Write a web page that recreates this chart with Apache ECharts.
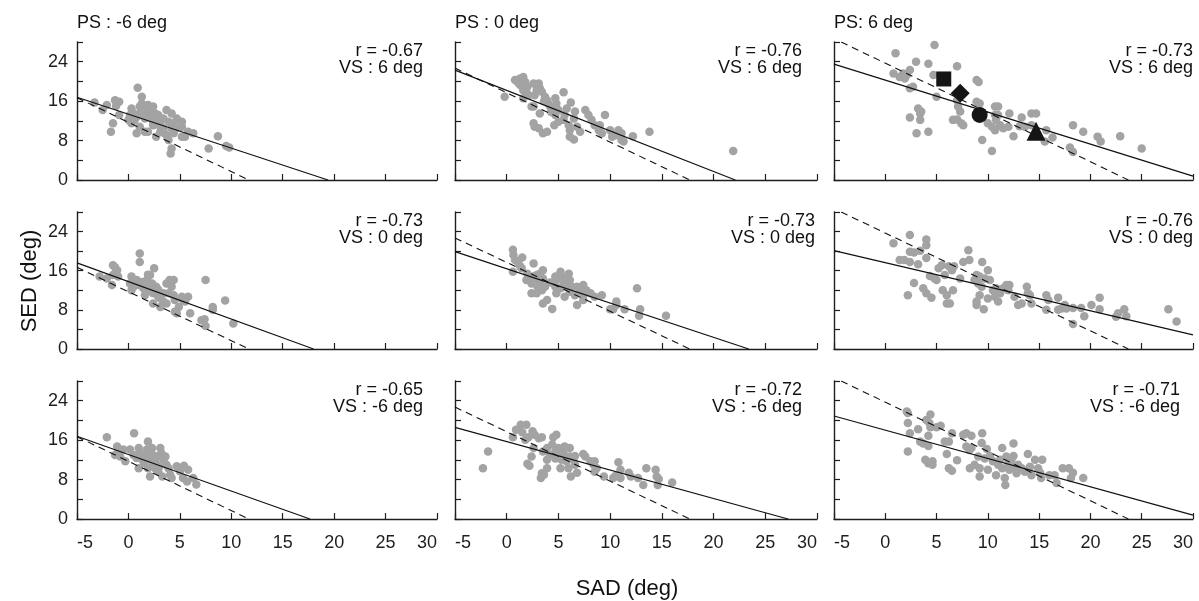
<!DOCTYPE html>
<html><head><meta charset="utf-8">
<script src="https://cdn.jsdelivr.net/npm/echarts@6/dist/echarts.min.js"></script>
<style>html,body{margin:0;padding:0;background:#fff}#c{width:1199px;height:601px}</style>
</head><body><div id="c"></div>
<script>
// ---------- DATA ----------
const PS_LABELS = ['PS : -6 deg', 'PS : 0 deg', 'PS: 6 deg'];
const VS_LABELS = ['VS : 6 deg', 'VS : 0 deg', 'VS : -6 deg'];
const R_VALUES = [['-0.67', '-0.76', '-0.73'], ['-0.73', '-0.73', '-0.76'], ['-0.65', '-0.72', '-0.71']];
const X_NAME = 'SAD (deg)';
const Y_NAME = 'SED (deg)';
// dashed reference line y = c - x, one intercept per PS column
const DASH_INTERCEPT = [11.7, 17.7, 23.7];
// solid regression line endpoints per panel [x0, y0, x1, y1]
const FIT_LINES = [
  [-5, 16.8, 19.4, 0], [-5, 22.3, 22.1, 0], [-5, 23.5, 30, 0.8],
  [-5, 17.6, 18.0, 0], [-5, 19.9, 23.4, 0], [-5, 20.1, 30, 2.9],
  [-5, 16.8, 17.65, 0], [-5, 18.6, 27.2, 0], [-5, 20.9, 30, 0.8]
];
// highlighted markers in panel PS 6 / VS 6
const MARK_SYMBOLS = ['rect', 'diamond', 'circle', 'triangle'];
const MARK_POINTS = [[5.7, 20.5], [7.3, 17.6], [9.2, 13.2], [14.7, 9.9]];

const P11 = [[-3.3,15.7],[-2.5,14.2],[-2.1,15.2],[-1.3,16.2],[-0.9,15.9],[-1.2,15.0],[-0.9,13.2],[-1.5,11.5],[-1.7,9.8],[0.9,18.7],[1.3,16.9],[0.3,14.5],[0.15,13.2],[0.3,11.5],[0.6,12.2],[0.5,13.5],[0.8,12.8],[1.1,14.9],[1.1,13.5],[1.45,14.2],[1.6,12.5],[1.8,14.5],[1.9,13.2],[2.1,13.9],[2.3,12.2],[2.6,13.5],[2.7,12.5],[3.1,11.8],[0.8,9.5],[1.6,9.8],[1.9,9.8],[1.1,10.8],[2.7,8.8],[3.1,10.8],[3.4,10.5],[3.7,14.2],[4.2,13.5],[3.7,9.1],[3.5,9.5],[3.9,8.1],[4.2,6.4],[4.1,5.4],[4.4,11.5],[4.2,10.5],[3.9,11.8],[4.4,9.5],[4.7,10.5],[5.2,11.8],[5.2,10.8],[5.2,8.8],[5.5,8.8],[5.8,9.8],[6.3,9.5],[7.8,6.4],[8.7,8.9],[9.5,6.9],[9.8,6.6],[1.3,15.5],[1.9,15.2],[2.4,14.9],[2.9,13.2],[3.4,12.5],[2.4,11.1],[3.1,9.8],[4.7,12.5],[0.0,12.2],[0.4,12.8]];
const P12 = [[-0.2,16.9],[0.8,20.3],[1.3,20.6],[1.6,20.9],[1.8,19.9],[1.3,19.3],[1.6,18.2],[1.9,17.9],[1.6,16.6],[2.1,17.2],[2.6,19.6],[3.1,19.6],[2.9,18.2],[3.2,18.6],[3.4,17.9],[2.7,17.2],[2.4,14.9],[2.6,14.9],[3.2,13.5],[3.7,16.9],[3.9,16.2],[4.0,15.5],[4.2,14.9],[4.5,14.2],[4.7,16.6],[4.8,15.5],[4.7,13.2],[5.0,14.2],[5.5,17.8],[5.8,14.5],[6.2,15.7],[2.7,10.8],[2.6,11.5],[3.1,10.5],[3.5,9.5],[3.9,9.8],[4.6,11.1],[5.0,11.8],[5.5,12.2],[5.6,13.2],[6.0,11.1],[6.1,10.1],[6.1,8.8],[6.5,8.2],[6.6,13.9],[6.5,12.5],[6.8,10.8],[7.1,9.8],[7.6,14.2],[7.9,13.2],[8.2,12.2],[8.5,11.1],[9.0,11.1],[8.9,10.1],[9.2,9.5],[9.5,13.2],[10.0,10.1],[10.2,8.8],[10.5,9.1],[10.8,10.1],[11.1,9.5],[11.1,8.1],[11.3,7.8],[12.2,8.9],[13.8,9.8],[21.9,5.9],[1.1,19.8],[2.0,18.9],[3.6,16.0],[4.3,13.8]];
const P13 = [[1.0,25.7],[4.8,27.4],[0.8,21.6],[1.4,20.9],[1.75,21.6],[1.9,20.6],[2.1,21.3],[2.4,22.3],[3.0,24.0],[4.2,23.6],[2.4,18.6],[2.7,18.9],[5.0,16.9],[4.7,21.3],[7.0,23.1],[8.9,20.3],[9.1,19.9],[7.0,16.2],[7.1,14.9],[7.3,13.9],[8.9,15.9],[9.2,15.5],[3.2,14.5],[3.4,13.5],[3.5,13.9],[2.4,12.7],[3.4,12.2],[3.05,9.5],[4.2,9.8],[6.6,12.2],[7.0,12.3],[7.4,11.5],[7.6,11.1],[9.45,8.1],[10.4,5.9],[10.0,11.5],[10.4,10.8],[10.7,14.9],[11.0,14.9],[10.7,13.2],[11.0,13.2],[10.8,12.2],[11.2,11.1],[10.7,10.1],[11.5,10.5],[12.1,13.5],[12.0,10.8],[12.5,8.9],[13.1,10.9],[13.3,12.7],[13.6,10.8],[14.25,13.5],[14.7,13.5],[14.25,11.1],[15.55,7.8],[15.7,10.1],[16.3,8.6],[18.0,6.6],[18.3,5.7],[18.3,11.1],[19.3,9.8],[20.7,8.8],[21.0,7.8],[22.9,8.9],[25.0,6.4]];
const P21 = [[-2.8,14.8],[-2.1,14.4],[-1.6,13.1],[-1.5,17.1],[-1.3,16.7],[-1.1,16.1],[-1.5,15.1],[-1.0,14.8],[0.3,14.8],[1.1,19.5],[1.1,17.8],[0.15,13.4],[0.5,12.7],[0.3,12.0],[0.8,14.1],[1.0,13.1],[1.3,13.7],[1.45,12.4],[1.8,14.1],[1.9,13.1],[2.1,12.0],[2.3,13.4],[2.4,11.4],[1.6,11.0],[2.7,12.7],[2.9,10.7],[2.1,15.1],[2.5,16.5],[1.9,15.2],[3.1,10.3],[2.4,9.3],[3.1,8.6],[3.4,9.7],[3.7,9.3],[3.4,11.4],[3.7,13.4],[4.0,14.1],[4.4,14.1],[4.2,12.7],[3.9,11.4],[4.4,11.0],[4.5,10.0],[4.5,7.6],[4.7,7.3],[4.9,8.6],[5.3,10.0],[5.2,10.7],[5.5,9.7],[5.8,10.7],[6.0,7.3],[7.1,5.9],[7.5,4.7],[7.4,6.1],[7.5,14.1],[8.2,8.6],[8.2,8.0],[9.4,9.9],[10.2,5.2],[0.8,13.6],[1.6,12.9],[2.9,12.1]];
const P22 = [[0.6,20.3],[0.65,19.2],[0.8,18.2],[1.1,17.8],[1.5,18.7],[1.3,16.9],[0.6,15.8],[1.45,16.5],[2.6,17.5],[1.9,14.1],[2.1,14.8],[2.4,13.4],[2.4,11.4],[2.6,14.8],[2.9,15.1],[3.1,14.1],[3.2,13.4],[3.5,16.1],[3.5,14.4],[3.7,12.7],[3.4,12.0],[2.9,11.4],[3.9,10.0],[3.5,9.3],[4.4,8.2],[4.7,14.8],[4.8,14.1],[4.7,12.7],[4.8,11.4],[5.2,15.8],[5.3,14.8],[5.5,13.4],[5.2,12.4],[5.6,10.7],[6.0,15.4],[6.1,14.1],[5.8,12.7],[6.1,11.7],[6.3,12.7],[6.6,11.0],[6.8,12.7],[6.8,9.0],[7.1,12.0],[7.4,13.1],[7.4,11.0],[7.4,10.0],[7.7,12.0],[8.1,11.4],[8.5,10.7],[9.2,11.0],[10.0,8.1],[10.3,8.1],[10.6,9.7],[10.6,9.0],[11.4,8.1],[12.6,12.4],[12.9,8.1],[12.8,6.8],[15.4,6.8],[3.2,15.4],[4.2,13.6],[2.0,15.4],[5.8,14.6],[3.0,12.6]];
const P23 = [[0.8,21.6],[1.4,18.2],[1.85,18.2],[2.4,23.3],[2.4,19.9],[2.4,17.8],[2.8,19.7],[3.2,17.3],[3.4,20.1],[4.0,22.4],[4.0,21.2],[4.0,18.6],[2.8,13.5],[2.2,11.0],[3.7,12.4],[4.0,11.4],[4.5,10.5],[4.35,14.9],[4.8,14.4],[5.0,14.1],[5.2,16.5],[5.5,17.1],[5.8,15.1],[5.6,12.0],[6.0,11.0],[6.0,9.3],[6.3,9.3],[6.2,16.9],[6.5,16.1],[6.7,16.9],[6.6,12.0],[7.3,14.4],[7.6,17.8],[8.1,20.2],[8.2,18.2],[8.7,14.1],[8.9,15.1],[9.05,13.4],[9.2,14.8],[9.45,17.8],[9.4,12.7],[9.7,14.4],[10.0,16.1],[10.2,14.1],[9.2,11.0],[8.9,9.7],[8.9,9.0],[9.6,8.1],[10.0,10.3],[10.5,12.0],[10.7,10.7],[10.8,12.4],[11.0,9.7],[11.2,11.4],[11.5,12.4],[11.8,13.1],[12.0,12.0],[12.1,13.1],[12.6,10.7],[12.95,9.0],[13.3,9.3],[13.8,12.7],[13.9,11.4],[14.1,11.0],[14.25,9.3],[15.7,11.0],[15.9,10.0],[15.7,8.0],[16.85,10.5],[16.85,8.0],[17.2,8.3],[17.5,9.0],[17.66,8.3],[18.3,5.1],[18.3,8.4],[19.1,8.4],[19.4,6.7],[20.1,9.0],[20.9,10.5],[20.9,8.1],[22.5,6.6],[22.7,7.3],[23.3,8.1],[23.5,6.7],[27.6,8.1],[28.4,5.6]];
const P31 = [[-2.1,16.6],[0.55,17.4],[-1.1,14.7],[-1.0,14.1],[-1.3,13.0],[-0.8,12.7],[-0.5,14.1],[-0.3,11.7],[0.16,14.1],[0.5,13.0],[0.8,12.4],[1.0,14.4],[1.0,10.3],[1.5,11.4],[1.6,13.0],[1.9,15.7],[1.8,14.1],[2.1,12.0],[1.9,10.3],[2.3,14.4],[2.4,13.0],[2.4,11.4],[2.6,10.3],[2.1,8.6],[2.8,12.7],[2.9,9.7],[3.1,14.4],[3.2,13.4],[3.4,12.0],[3.3,8.6],[3.6,12.7],[3.7,11.0],[3.9,10.3],[4.06,9.0],[4.2,8.3],[4.7,10.7],[5.0,9.7],[5.3,8.3],[5.4,10.8],[5.7,7.6],[5.8,10.0],[6.3,8.3],[6.6,7.0],[1.1,13.3],[1.8,12.7],[1.4,11.9],[2.7,11.2],[3.0,10.6]];
const P32 = [[-2.3,10.3],[-1.8,13.7],[0.6,16.6],[0.9,18.1],[1.35,19.1],[1.9,19.1],[1.5,17.6],[1.8,16.1],[2.1,16.6],[2.5,17.8],[2.7,17.1],[3.1,16.4],[3.4,16.6],[2.6,14.4],[2.4,12.7],[2.0,11.2],[2.2,10.8],[3.4,9.3],[3.3,8.3],[3.6,9.0],[3.9,10.3],[3.9,12.0],[3.5,13.7],[3.9,14.4],[4.2,13.0],[4.4,15.1],[4.5,16.6],[4.8,17.1],[4.7,13.7],[4.7,12.3],[5.0,13.0],[5.0,14.4],[5.2,10.3],[5.3,12.0],[5.5,13.4],[5.6,14.7],[5.8,11.7],[5.97,10.3],[6.1,14.4],[6.1,12.7],[6.2,8.6],[6.45,12.0],[6.6,11.0],[6.8,9.4],[6.6,12.8],[7.4,13.2],[7.6,12.7],[8.1,11.7],[8.4,11.0],[8.5,11.7],[8.5,9.6],[8.7,10.3],[9.4,8.6],[10.3,8.3],[10.5,8.7],[10.8,11.5],[11.0,10.0],[11.0,8.3],[11.8,9.4],[12.0,8.6],[12.7,8.3],[13.2,6.9],[13.5,10.3],[14.4,10.0],[14.5,8.6],[14.6,6.9],[14.7,8.1],[16.0,7.4]];
const P33 = [[2.1,21.8],[2.2,21.5],[2.2,19.5],[2.4,17.4],[2.2,13.7],[3.2,18.2],[3.4,15.7],[3.7,15.3],[4.0,20.1],[4.4,21.2],[4.3,19.5],[4.4,18.6],[4.2,16.9],[4.2,14.8],[3.9,12.0],[4.2,11.3],[4.6,11.0],[4.6,11.7],[5.0,18.6],[5.4,18.9],[5.8,15.7],[6.2,15.7],[6.0,13.2],[6.2,10.3],[6.5,9.8],[6.5,17.4],[7.0,11.9],[7.6,17.1],[7.9,17.4],[7.9,14.7],[8.2,14.0],[8.4,16.9],[8.4,14.4],[8.25,10.3],[8.7,11.0],[9.06,12.7],[9.2,10.3],[9.2,8.6],[9.45,17.4],[9.4,15.4],[9.7,12.3],[9.9,14.2],[10.0,10.0],[10.2,12.8],[10.5,11.7],[10.8,8.9],[11.0,11.0],[11.2,12.0],[11.4,14.4],[11.4,10.3],[11.7,6.9],[11.65,8.3],[11.8,12.7],[12.0,11.3],[12.1,10.0],[12.3,12.0],[12.5,15.3],[12.5,12.8],[12.6,10.6],[12.8,9.3],[12.95,11.0],[13.3,10.3],[13.6,9.6],[13.9,13.2],[14.1,10.6],[14.25,8.9],[14.6,12.0],[14.9,10.3],[15.1,9.4],[15.3,12.0],[15.2,8.3],[16.0,8.9],[16.5,8.9],[16.7,7.3],[17.3,10.3],[17.9,10.3],[18.3,9.4],[18.1,8.3],[19.3,8.3]];
const PANEL_POINTS = [P11, P12, P13, P21, P22, P23, P31, P32, P33];

// ---------- LAYOUT ----------
const FONT = '"Liberation Sans", Arial, Helvetica, sans-serif';
const GRID_LEFT = [77, 455, 834], GRID_W = [360, 362, 359];
const GRID_TOP = [42, 212, 381], GRID_H = [138, 137, 138];
const TEXT_RIGHT = [[423, 802, 1193], [423, 815, 1193], [423, 802, 1180]];
const AX = '#1e1e1e';

const grids = [], xAxes = [], yAxes = [], series = [], graphics = [];
for (let r = 0; r < 3; r++) {
  for (let c = 0; c < 3; c++) {
    const i = r * 3 + c;
    grids.push({left: GRID_LEFT[c], top: GRID_TOP[r], width: GRID_W[c], height: GRID_H[r]});
    xAxes.push({
      type: 'value', gridIndex: i, min: -5, max: 30, interval: 5,
      axisLine: {show: true, onZero: false, lineStyle: {color: AX, width: 1.4}},
      axisTick: {show: true, inside: true, length: 6, lineStyle: {color: AX, width: 1.2}},
      axisLabel: {show: r === 2, fontSize: 18, color: AX, fontFamily: FONT, margin: 15,
                  alignMinLabel: 'left', alignMaxLabel: 'right'},
      splitLine: {show: false}
    });
    yAxes.push({
      type: 'value', gridIndex: i, min: 0, max: 28, interval: 4,
      axisLine: {show: true, onZero: false, lineStyle: {color: AX, width: 1.4}},
      axisTick: {show: true, inside: true, length: 6, lineStyle: {color: AX, width: 1.2}},
      axisLabel: {show: c === 0, fontSize: 18, color: AX, fontFamily: FONT, margin: 9,
                  formatter: v => (v % 8 === 0 ? String(v) : '')},
      splitLine: {show: false}
    });
    series.push({
      type: 'scatter', xAxisIndex: i, yAxisIndex: i, data: PANEL_POINTS[i],
      symbolSize: 8.5, itemStyle: {color: '#a3a3a3', opacity: 1}, z: 2, silent: true
    });
    const cI = DASH_INTERCEPT[c];
    const xs = Math.max(-5, cI - 28);
    series.push({
      type: 'line', xAxisIndex: i, yAxisIndex: i, data: [[xs, cI - xs], [cI, 0]],
      symbol: 'none', lineStyle: {color: '#111', width: 1.1, type: [7, 5]}, z: 3, silent: true
    });
    const f = FIT_LINES[i];
    series.push({
      type: 'line', xAxisIndex: i, yAxisIndex: i, data: [[f[0], f[1]], [f[2], f[3]]],
      symbol: 'none', lineStyle: {color: '#111', width: 1.2}, z: 3, silent: true
    });
    const tr = TEXT_RIGHT[r][c];
    graphics.push({type: 'text', x: tr, y: GRID_TOP[r] + 9, style: {
      text: 'r = ' + R_VALUES[r][c], font: '18px ' + FONT, fill: '#111',
      align: 'right', verticalAlign: 'middle', textAlign: 'right', textVerticalAlign: 'middle'}});
    graphics.push({type: 'text', x: tr, y: GRID_TOP[r] + 26, style: {
      text: VS_LABELS[r], font: '18px ' + FONT, fill: '#111',
      align: 'right', verticalAlign: 'middle', textAlign: 'right', textVerticalAlign: 'middle'}});
  }
}
// highlighted markers (panel PS 6 / VS 6)
MARK_POINTS.forEach((p, k) => {
  series.push({
    type: 'scatter', xAxisIndex: 2, yAxisIndex: 2, data: [p],
    symbol: MARK_SYMBOLS[k], symbolSize: [15, 19, 16, 19][k],
    itemStyle: {color: '#151515', opacity: 1}, z: 5, silent: true
  });
});
PS_LABELS.forEach((t, c) => {
  graphics.push({type: 'text', x: GRID_LEFT[c], y: 23, style: {
    text: t, font: '18px ' + FONT, fill: '#111',
    align: 'left', verticalAlign: 'middle', textAlign: 'left', textVerticalAlign: 'middle'}});
});
graphics.push({type: 'text', x: 627, y: 589, style: {
  text: X_NAME, font: '22px ' + FONT, fill: '#111',
  align: 'center', verticalAlign: 'middle', textAlign: 'center', textVerticalAlign: 'middle'}});
graphics.push({type: 'text', x: 30, y: 281, rotation: Math.PI / 2, style: {
  text: Y_NAME, font: '22px ' + FONT, fill: '#111',
  align: 'center', verticalAlign: 'middle', textAlign: 'center', textVerticalAlign: 'middle'}});

const chart = echarts.init(document.getElementById('c'), null, {renderer: 'canvas'});
chart.setOption({
  animation: false, backgroundColor: '#fff',
  grid: grids, xAxis: xAxes, yAxis: yAxes, series: series, graphic: graphics
});
</script></body></html>
